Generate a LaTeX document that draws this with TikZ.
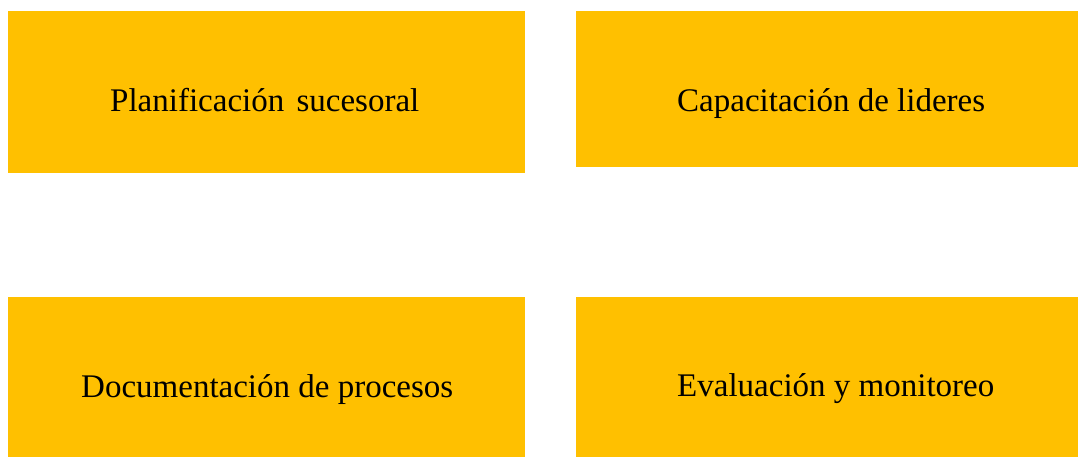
\documentclass[tikz,border=0pt]{standalone}
\usepackage{fontspec}
\setmainfont{Liberation Serif}
\usetikzlibrary{positioning}
\definecolor{ambar}{HTML}{FFC000}

\begin{document}
\begin{tikzpicture}[x=1pt, y=1pt]
    \tikzstyle{bloque} = [fill=ambar, draw=none, rectangle, inner sep=0pt, anchor=north west];
    \tikzstyle{texto} = [font=\fontsize{33}{40}\selectfont, inner sep=0pt, anchor=base west];

    \useasboundingbox (0, 0) rectangle (1078, -457);

    \node[bloque, minimum width=517pt, minimum height=162pt] (plan) at (8, -11) {};
    \node[bloque, minimum width=502pt, minimum height=156pt] (capa) at (576, -11) {};
    \node[bloque, minimum width=517pt, minimum height=160pt] (docu) at (8, -297) {};
    \node[bloque, minimum width=502pt, minimum height=160pt] (eval) at (576, -297) {};

    \node[texto] (tplan) at (110, -112) {Planificación\hspace{4pt} sucesoral};
    \node[texto] (tcapa) at (677, -112) {Capacitación de lideres};
    \node[texto] (tdocu) at (81, -397) {Documentación de procesos};
    \node[texto] (teval) at (677, -396) {Evaluación y monitoreo};
\end{tikzpicture}
\end{document}
